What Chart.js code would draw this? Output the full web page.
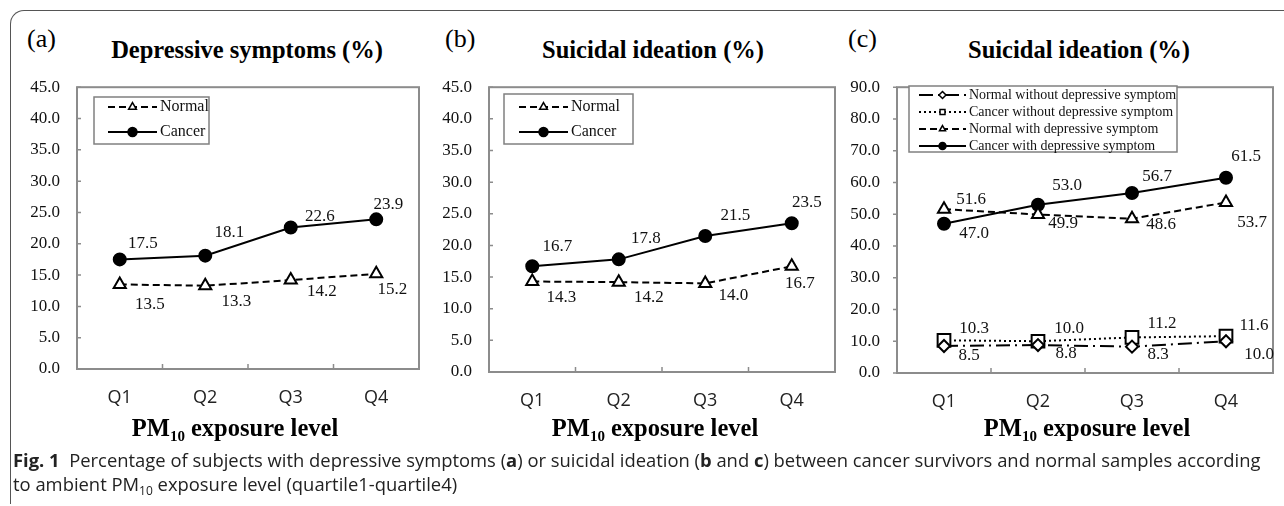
<!DOCTYPE html>
<html>
<head>
<meta charset="utf-8">
<script src="https://cdn.jsdelivr.net/npm/chart.js@4.4.0/dist/chart.umd.min.js"></script>
<style>
  body { margin: 0; background: #fff; }
  #page { position: relative; width: 1284px; height: 506px; overflow: hidden; font-family: "Liberation Serif", serif; color: #000; }
  .frame { position: absolute; left: 10px; top: 10px; width: 1320px; height: 493px; border-left: 1.5px solid #555; border-top: 1.5px solid #555; border-top-left-radius: 14px; }
  .tag { position: absolute; font-size: 26px; line-height: 26px; white-space: nowrap; }
  .ttl { position: absolute; font-size: 24.5px; line-height: 24px; font-weight: bold; white-space: nowrap; transform: translateX(-50%); }
  .ttl sub { font-size: 15px; vertical-align: -5px; line-height: 0; }
  .box { position: absolute; }
  .cap { position: absolute; left: 13px; top: 448px; font-family: "Open Sans", sans-serif; font-size: 18.4px; line-height: 24px; color: #222; white-space: nowrap; }
  .cap sub { font-size: 12px; vertical-align: -4px; line-height: 0; }
</style>
</head>
<body>
<div id="page">
  <div class="frame"></div>

  <div class="tag" style="left:27px;top:26px">(a)</div>
  <div class="tag" style="left:445px;top:26px">(b)</div>
  <div class="tag" style="left:848px;top:26px">(c)</div>

  <div class="ttl" style="left:247px;top:38px">Depressive symptoms (%)</div>
  <div class="ttl" style="left:653px;top:38px">Suicidal ideation (%)</div>
  <div class="ttl" style="left:1079px;top:38px">Suicidal ideation (%)</div>

  <div class="box" style="left:0px;top:60px"><canvas id="chartA" width="430" height="360"></canvas></div>
  <div class="box" style="left:430px;top:60px"><canvas id="chartB" width="420" height="360"></canvas></div>
  <div class="box" style="left:850px;top:60px"><canvas id="chartC" width="434" height="360"></canvas></div>

  <div class="ttl" style="left:235px;top:416px">PM<sub>10</sub> exposure level</div>
  <div class="ttl" style="left:655px;top:416px">PM<sub>10</sub> exposure level</div>
  <div class="ttl" style="left:1087px;top:416px">PM<sub>10</sub> exposure level</div>

  <div class="cap"><b>Fig. 1</b>&nbsp;&nbsp;Percentage of subjects with depressive symptoms (<b>a</b>) or suicidal ideation (<b>b</b> and <b>c</b>) between cancer survivors and normal samples according<br>to ambient PM<sub>10</sub> exposure level (quartile1-quartile4)</div>
</div>

<script>
// 데이터
const quartiles = ["Q1", "Q2", "Q3", "Q4"];

// (a) depressive symptoms
const depNormal = [13.5, 13.3, 14.2, 15.2];
const depCancer = [17.5, 18.1, 22.6, 23.9];

// (b) suicidal ideation
const suiNormal = [14.3, 14.2, 14.0, 16.7];
const suiCancer = [16.7, 17.8, 21.5, 23.5];

// (c) suicidal ideation by depressive symptom
const normalNoDep = [8.5, 8.8, 8.3, 10.0];
const cancerNoDep = [10.3, 10.0, 11.2, 11.6];
const normalDep = [51.6, 49.9, 48.6, 53.7];
const cancerDep = [47.0, 53.0, 56.7, 61.5];

const yMaxAB = 45, yStepAB = 5;
const yMaxC = 90, yStepC = 10;

const SERIF = '"Liberation Serif", serif';

/* 축 테두리 + 눈금 */
const framePlugin = {
  id: "frame",
  beforeDatasetsDraw(chart, args, o) {
    const { ctx, chartArea: a, scales } = chart;
    ctx.save();
    ctx.strokeStyle = "#8c8c8c";
    ctx.lineWidth = 2;
    ctx.strokeRect(a.left, a.top, a.right - a.left, a.bottom - a.top);
    ctx.lineWidth = 1.5;
    ctx.beginPath();
    scales.y.ticks.forEach(t => {
      const py = scales.y.getPixelForValue(t.value);
      ctx.moveTo(a.left, py);
      ctx.lineTo(a.left + o.yTick, py);
    });
    const n = scales.x.ticks.length;
    for (let i = 1; i < n; i++) {
      const px = (scales.x.getPixelForTick(i - 1) + scales.x.getPixelForTick(i)) / 2;
      ctx.moveTo(px, a.bottom);
      ctx.lineTo(px, a.bottom - 5);
    }
    ctx.stroke();
    ctx.restore();
  }
};

/* 값 라벨 */
const valuePlugin = {
  id: "values",
  afterDraw(chart, args, o) {
    const ctx = chart.ctx;
    ctx.save();
    ctx.font = o.size + "px " + SERIF;
    ctx.fillStyle = "#111";
    ctx.textAlign = "center";
    ctx.textBaseline = "middle";
    chart.data.datasets.forEach((ds, i) => {
      const meta = chart.getDatasetMeta(i);
      const offs = o.offsets[i];
      meta.data.forEach((pt, j) => {
        const d = offs[j];
        ctx.fillText(ds.data[j].toFixed(1), pt.x + d[0], pt.y + d[1]);
      });
    });
    ctx.restore();
  }
};

/* 범례 박스 */
const legendPlugin = {
  id: "boxLegend",
  afterDraw(chart, args, o) {
    const ctx = chart.ctx;
    ctx.save();
    ctx.fillStyle = "#fff";
    ctx.fillRect(o.x, o.y, o.w, o.h);
    ctx.strokeStyle = "#808080";
    ctx.lineWidth = 1.5;
    ctx.strokeRect(o.x, o.y, o.w, o.h);
    ctx.font = o.size + "px " + SERIF;
    ctx.textBaseline = "middle";
    ctx.textAlign = "left";
    chart.data.datasets.forEach((ds, i) => {
      const cy = o.y + o.first + i * o.rowH;
      const x1 = o.x + o.sx, x2 = x1 + o.sw;
      ctx.strokeStyle = "#000";
      ctx.lineWidth = 2;
      ctx.setLineDash(ds.borderDash || []);
      ctx.beginPath();
      ctx.moveTo(x1, cy);
      ctx.lineTo(x2, cy);
      ctx.stroke();
      ctx.setLineDash([]);
      ctx.fillStyle = ds.pointBackgroundColor;
      ctx.lineWidth = 1.5;
      Chart.helpers.drawPoint(ctx, { pointStyle: ds.pointStyle, radius: o.r, rotation: 0, borderWidth: 1.5 }, (x1 + x2) / 2, cy);
      ctx.fillStyle = "#111";
      ctx.fillText(ds.label, x2 + o.gap, cy);
    });
    ctx.restore();
  }
};

function line(label, data, style) {
  return Object.assign({
    label: label,
    data: data,
    borderColor: "#000",
    borderWidth: 2,
    pointBorderColor: "#000",
    pointBorderWidth: 2,
    tension: 0
  }, style);
}

const dashed = { borderDash: [7, 4], pointStyle: "triangle", pointRadius: 7, pointBackgroundColor: "#fff" };
const solid = { borderDash: [], pointStyle: "circle", pointRadius: 6, pointBackgroundColor: "#000" };

function makeChart(id, datasets, cfg) {
  new Chart(document.getElementById(id), {
    type: "line",
    data: { labels: quartiles, datasets: datasets },
    options: {
      responsive: false,
      animation: false,
      events: [],
      layout: { padding: { top: cfg.top, right: cfg.right, left: 0, bottom: 0 } },
      scales: {
        x: {
          offset: true,
          grid: { display: false, drawTicks: false },
          border: { display: false },
          ticks: { color: "#222", padding: 18, font: { family: '"Open Sans", sans-serif', size: 18 } },
          afterFit: s => { s.height = cfg.xh; }
        },
        y: {
          min: 0, max: cfg.max,
          grid: { display: false, drawTicks: false },
          border: { display: false },
          ticks: {
            stepSize: cfg.step, padding: 17, color: "#111",
            font: { family: SERIF, size: 17 },
            callback: v => Number(v).toFixed(1)
          },
          afterFit: s => { s.width = cfg.yw; }
        }
      },
      plugins: {
        legend: { display: false },
        tooltip: { enabled: false },
        frame: { yTick: cfg.yTick },
        values: { size: 17, offsets: cfg.offsets },
        boxLegend: cfg.legend
      }
    },
    plugins: [framePlugin, valuePlugin, legendPlugin]
  });
}

makeChart("chartA", [
  line("Normal", depNormal, dashed),
  line("Cancer", depCancer, solid)
], {
  top: 20, right: 11, xh: 51, yw: 77, max: yMaxAB, step: yStepAB, yTick: 4,
  offsets: [
    [[30, 20], [31, 16], [31, 11], [16, 16]],
    [[23, -16], [24, -23], [29, -11], [12, -15]]
  ],
  legend: { x: 94, y: 37, w: 115, h: 47, first: 10, rowH: 25, sx: 14, sw: 49, gap: 3, r: 4.5, size: 16 }
});

makeChart("chartB", [
  line("Normal", suiNormal, dashed),
  line("Cancer", suiCancer, solid)
], {
  top: 19, right: 15, xh: 48, yw: 59, max: yMaxAB, step: yStepAB, yTick: 4,
  offsets: [
    [[29, 16], [30, 15], [28, 12], [8, 17]],
    [[25, -20], [27, -21], [30, -20], [15, -21]]
  ],
  legend: { x: 74, y: 34, w: 129, h: 50, first: 13, rowH: 25, sx: 15, sw: 49, gap: 3, r: 4.5, size: 16 }
});

makeChart("chartC", [
  line("Normal without depressive symptom", normalNoDep, { borderDash: [14, 5, 2, 5], pointStyle: "rectRot", pointRadius: 6, pointBackgroundColor: "#fff" }),
  line("Cancer without depressive symptom", cancerNoDep, { borderDash: [2, 3], pointStyle: "rect", pointRadius: 9, pointBackgroundColor: "#fff" }),
  line("Normal with depressive symptom", normalDep, dashed),
  line("Cancer with depressive symptom", cancerDep, solid)
], {
  top: 16, right: 10, xh: 47, yw: 47, max: yMaxC, step: yStepC, yTick: -4,
  offsets: [
    [[25, 10], [28, 8], [26, 8], [33, 13]],
    [[30, -12], [31, -13], [30, -14], [28, -11]],
    [[27, -10], [25, 9], [29, 6], [26, 20]],
    [[30, 10], [29, -19], [25, -16], [20, -21]]
  ],
  legend: { x: 59, y: 26, w: 268, h: 66, first: 9, rowH: 17, sx: 10, sw: 47, gap: 3, r: 3.5, size: 14 }
});
</script>
</body>
</html>
